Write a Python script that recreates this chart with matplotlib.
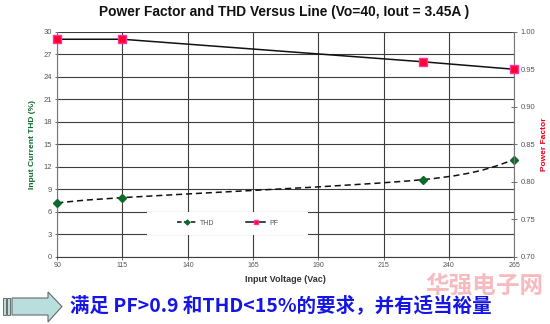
import matplotlib
matplotlib.use("Agg")
import matplotlib.pyplot as plt
from matplotlib.lines import Line2D
from matplotlib.patches import Polygon, Rectangle, PathPatch
from matplotlib.path import Path
from matplotlib.transforms import Affine2D

plt.rcParams["font.family"] = ["Liberation Sans", "DejaVu Sans"]

# measured points
voltage = [90, 115, 230, 265]
thd = [7.2, 7.9, 10.3, 12.9]
pf = [0.99, 0.99, 0.96, 0.95]

x_ticks = [90, 115, 140, 165, 190, 215, 240, 265]
thd_ticks = [0, 3, 6, 9, 12, 15, 18, 21, 24, 27, 30]
pf_ticks = [0.70, 0.75, 0.80, 0.85, 0.90, 0.95, 1.00]

GRID = "#3c3c3c"
THD_GREEN = "#0b6b2a"
PF_RED = "#ff0033"
CJK = ["Noto Sans CJK SC", "DejaVu Sans"]


def smooth_path(xs, ys):
    """Excel-style smoothed line: Catmull-Rom segments as cubic Beziers."""
    pts = list(zip(xs, ys))
    verts = [pts[0]]
    codes = [Path.MOVETO]
    for i in range(len(pts) - 1):
        p0 = pts[i - 1] if i > 0 else pts[i]
        p1, p2 = pts[i], pts[i + 1]
        p3 = pts[i + 2] if i + 2 < len(pts) else pts[i + 1]
        c1 = (p1[0] + (p2[0] - p0[0]) / 6, p1[1] + (p2[1] - p0[1]) / 6)
        c2 = (p2[0] - (p3[0] - p1[0]) / 6, p2[1] - (p3[1] - p1[1]) / 6)
        verts += [c1, c2, p2]
        codes += [Path.CURVE4] * 3
    return Path(verts, codes)


fig = plt.figure(figsize=(5.5, 3.24), dpi=100)
ax = fig.add_axes([0.104, 0.207, 0.831, 0.695])
ax2 = ax.twinx()

ax.set_xlim(90, 265)
ax.set_ylim(0, 30)
ax2.set_ylim(0.70, 1.00)

# grid
for xv in x_ticks:
    ax.axvline(xv, color=GRID, lw=0.8, zorder=1)
for yv in thd_ticks:
    ax.axhline(yv, color=GRID, lw=0.8, zorder=1)

# THD (left axis), smoothed dashed line
thd_line = PathPatch(smooth_path(voltage, thd), facecolor="none", edgecolor="#111111",
                     lw=1.1, linestyle=(0, (4, 2.5)), zorder=3)
ax.add_patch(thd_line)
ax.plot(voltage, thd, linestyle="none", marker="D", ms=4, color=THD_GREEN, zorder=4,
        clip_on=False)

# PF (right axis)
ax2.plot(voltage, pf, color="#111111", lw=1.1, marker="s", ms=5.5,
         markerfacecolor=PF_RED, markeredgecolor="#ff3399", zorder=4, clip_on=False)

# ticks and spines
ax.set_xticks(x_ticks)
ax.set_yticks(thd_ticks)
ax2.set_yticks(pf_ticks)
ax2.set_yticklabels([f"{v:.2f}" for v in pf_ticks])
ax.tick_params(axis="x", labelsize=5, colors="#555555", length=2, width=0.6, pad=2)
ax.tick_params(axis="y", labelsize=5.5, colors="#555555", length=3, width=0.6,
               direction="inout", pad=2)
ax2.tick_params(axis="y", labelsize=5.5, colors="#555555", length=5, width=0.6,
                direction="inout", pad=2)
for a in (ax, ax2):
    for s in a.spines.values():
        s.set_visible(False)
ax.spines["left"].set_visible(True)
ax.spines["left"].set_color("#777777")
ax.spines["left"].set_linewidth(0.8)
ax.spines["bottom"].set_visible(True)
ax.spines["bottom"].set_color(GRID)
ax.spines["bottom"].set_linewidth(0.8)
ax2.spines["right"].set_visible(True)
ax2.spines["right"].set_color("#777777")
ax2.spines["right"].set_linewidth(0.8)

ax.set_xlabel("Input Voltage (Vac)", fontsize=6.5, fontweight="bold", color="#333333",
              labelpad=4)
ax.set_ylabel("Input Current THD (%)", fontsize=6, fontweight="bold", color=THD_GREEN,
              labelpad=6)
ax2.set_ylabel("Power Factor", fontsize=6, fontweight="bold", color="#e8001c",
               labelpad=4)

fig.text(0.517, 0.962, "Power Factor and THD Versus Line (Vo=40, Iout = 3.45A )",
         ha="center", va="center", fontsize=9.9, fontweight="bold", color="#111111")

# white legend area masking the grid behind it
ax2.add_patch(Rectangle((0.196, 0.098), 0.353, 0.102, transform=ax2.transAxes,
                        facecolor="white", edgecolor="none", zorder=2))
handles = [
    Line2D([], [], color="#111111", lw=1.1, linestyle=(0, (3, 1.5)), marker="D", ms=2.5,
           markerfacecolor=THD_GREEN, markeredgecolor=THD_GREEN),
    Line2D([], [], color="#111111", lw=1.1, marker="s", ms=3,
           markerfacecolor=PF_RED, markeredgecolor="#ff3399"),
]
leg = ax2.legend(handles, ["THD", "PF"], ncol=2, loc="center",
                 bbox_to_anchor=(0.373, 0.149), frameon=False, fontsize=5,
                 handlelength=2.8, columnspacing=4.5, handletextpad=0.5,
                 borderpad=0.2, borderaxespad=0)
for t in leg.get_texts():
    t.set_color("#555555")

# arrow and note beneath the chart (pixel coords, origin top-left)
flip = Affine2D().scale(1, -1).translate(0, 324)
arrow = Polygon([(12, 298), (48, 298), (48, 292), (62, 306.5), (48, 322), (48, 315),
                 (12, 315)], closed=True, facecolor="#b8dedd",
                edgecolor="#6a6a6a", lw=0.8)
arrow.set_transform(flip)
fig.add_artist(arrow)
for x0 in (3, 7):
    r = Rectangle((x0, 298), 3, 17, facecolor="#b8dedd", edgecolor="#6a6a6a", lw=0.7)
    r.set_transform(flip)
    fig.add_artist(r)

fig.text(484 / 550, 1 - 286 / 324, "华强电子网", ha="center", va="center", fontsize=17,
         fontweight="bold", color="#f4a3aa", alpha=0.75, family=CJK)
fig.text(70 / 550, 1 - 306 / 324, "满足 PF>0.9 和THD<15%的要求，并有适当裕量",
         ha="left", va="center", fontsize=14, fontweight="bold", color="#1515e6",
         family=CJK)

fig.savefig("out.png", dpi=100)
